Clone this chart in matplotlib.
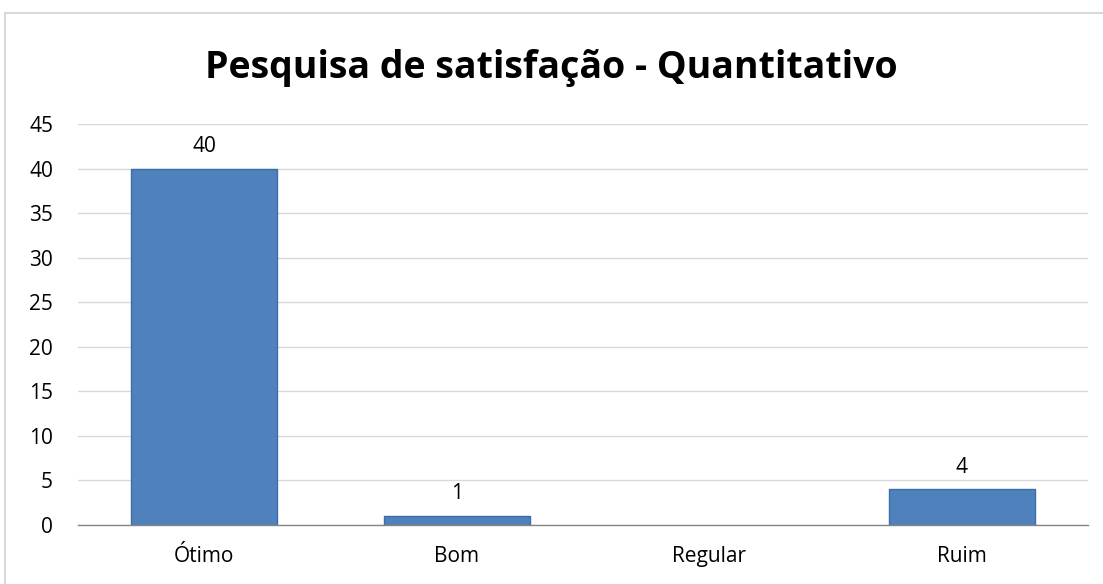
import matplotlib
matplotlib.use("Agg")
import matplotlib.pyplot as plt
from matplotlib.lines import Line2D

categories = ["Ótimo", "Bom", "Regular", "Ruim"]
values = [40, 1, 0, 4]
yticks = [0, 5, 10, 15, 20, 25, 30, 35, 40, 45]
title = "Pesquisa de satisfação - Quantitativo"

plt.rcParams['font.family'] = ['Open Sans', 'DejaVu Sans']

W, H = 1103, 584
fig = plt.figure(figsize=(W / 100, H / 100), dpi=100)
ax = fig.add_axes([78 / W, 1 - 525 / H, (1088 - 78) / W, (525 - 124) / H])

x = list(range(len(categories)))
bars = ax.bar(x, values, width=0.578, color="#4F81BD", edgecolor="#3C6DA6", linewidth=1.0, zorder=3)
for b, v in zip(bars, values):
    if v == 0:
        b.set_visible(False)
for xi, v in zip(x, values):
    if v:
        ax.annotate(str(v), (xi, v), xytext=(0, 12), textcoords="offset points",
                    ha="center", va="baseline", fontsize=15, color="#000000")

ax.set_xlim(-0.5, len(categories) - 0.5)
ax.set_ylim(0, 45)
ax.set_yticks(yticks)
ax.set_xticks(x)
ax.set_xticklabels(categories, fontsize=15)
ax.tick_params(axis="y", labelsize=15, length=0, pad=18)
ax.tick_params(axis="x", length=0, pad=15)
ax.grid(axis="y", color="#D9D9D9", linewidth=1.0, zorder=0)
ax.set_axisbelow(True)
for s in ["top", "right", "left"]:
    ax.spines[s].set_visible(False)
ax.spines["bottom"].set_color("#868686")
ax.spines["bottom"].set_linewidth(1.0)
ax.spines["bottom"].set_zorder(4)

fig.text(0.5, 1 - 68 / H, title, ha="center", va="center", fontsize=27, fontweight="bold")

# chart border
bx, by = 4.5 / W, 1 - 12.5 / H
fig.add_artist(Line2D([bx, bx], [0, by], transform=fig.transFigure, color="#D9D9D9", linewidth=1.5))
fig.add_artist(Line2D([bx, 1], [by, by], transform=fig.transFigure, color="#D9D9D9", linewidth=1.5))

fig.savefig("out.png", dpi=100)
